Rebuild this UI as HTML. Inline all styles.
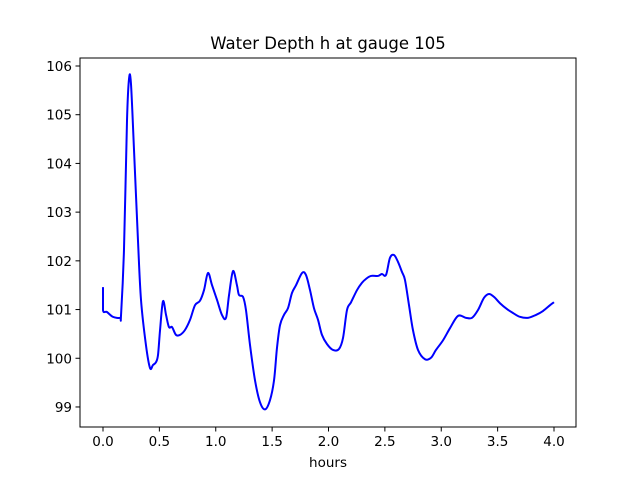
<!DOCTYPE html>
<html><head><meta charset="utf-8"><style>
body{margin:0;background:#fff}
svg{display:block;font-family:"DejaVu Sans","Liberation Sans",sans-serif}
</style></head><body>
<svg id="c" width="640" height="480"></svg>
<script>
const xs=[0,0,0.035,0.089,0.151,0.160,0.186,0.213,0.231,0.248,0.275,0.310,0.337,0.381,0.417,0.443,0.470,0.488,0.506,0.532,0.559,0.585,0.612,0.647,0.683,0.727,0.772,0.816,0.860,0.896,0.931,0.967,1.011,1.055,1.091,1.118,1.153,1.188,1.206,1.242,1.268,1.304,1.348,1.392,1.437,1.481,1.517,1.543,1.570,1.605,1.641,1.676,1.712,1.765,1.800,1.836,1.871,1.907,1.942,1.987,2.040,2.093,2.129,2.164,2.200,2.253,2.297,2.333,2.377,2.439,2.474,2.510,2.545,2.581,2.616,2.652,2.678,2.714,2.749,2.794,2.856,2.909,2.953,3.016,3.078,3.149,3.220,3.273,3.326,3.379,3.423,3.468,3.521,3.583,3.636,3.698,3.769,3.840,3.902,3.965,4.0];
const ys=[101.46,100.99,100.95,100.85,100.83,100.89,102.22,104.89,105.74,105.64,104.28,102.43,101.20,100.27,99.80,99.86,99.92,100.07,100.58,101.17,100.89,100.64,100.64,100.48,100.48,100.58,100.79,101.09,101.18,101.40,101.75,101.50,101.20,100.89,100.83,101.30,101.79,101.50,101.30,101.26,100.99,100.27,99.55,99.10,98.95,99.14,99.55,100.21,100.68,100.89,101.03,101.34,101.50,101.75,101.71,101.40,101.03,100.79,100.48,100.29,100.17,100.19,100.42,100.99,101.15,101.40,101.55,101.63,101.69,101.69,101.73,101.71,102.06,102.12,101.98,101.77,101.61,101.09,100.58,100.17,99.98,100.01,100.17,100.37,100.62,100.87,100.83,100.83,100.99,101.24,101.32,101.26,101.13,101.01,100.93,100.85,100.83,100.89,100.97,101.09,101.15];
const xTicks=[0,0.5,1,1.5,2,2.5,3,3.5,4];
const xTickLabels=["0.0","0.5","1.0","1.5","2.0","2.5","3.0","3.5","4.0"];
const yTicks=[99,100,101,102,103,104,105,106];
const X=v=>103+v*112.75, Y=v=>66+(106-v)*48.71;
const svg=document.getElementById('c'),NS='http://www.w3.org/2000/svg';
function mk(t,a,p){const e=document.createElementNS(NS,t);for(const k in a)e.setAttribute(k,a[k]);(p||svg).appendChild(e);return e;}
let d='';
for(let i=0;i<xs.length;i++){
  const p0=[X(xs[Math.max(0,i-1)]),Y(ys[Math.max(0,i-1)])],p1=[X(xs[i]),Y(ys[i])];
  if(i===0){d+='M'+p1[0]+','+p1[1];continue;}
  if(i===1){d+='L'+p1[0]+','+p1[1];continue;}
  const pm=[X(xs[Math.max(0,i-2)]),Y(ys[Math.max(0,i-2)])],p2=[X(xs[Math.min(xs.length-1,i+1)]),Y(ys[Math.min(xs.length-1,i+1)])];
  const c1=[p0[0]+(p1[0]-pm[0])/6,p0[1]+(p1[1]-pm[1])/6],c2=[p1[0]-(p2[0]-p0[0])/6,p1[1]-(p2[1]-p0[1])/6];
  d+='C'+c1+' '+c2+' '+p1;
}
const ln=mk('path',{d:d,fill:'none',stroke:'#0000ff','stroke-width':2,'stroke-linejoin':'round'});


const fr=mk('rect',{x:80,y:58,width:496,height:369,fill:'none',stroke:'#000','stroke-width':1});


xTicks.forEach((v,i)=>{
  const x=X(v);
  const t=mk('line',{x1:x,x2:x,y1:427,y2:431.5,stroke:'#000'});
  
  
  const l=mk('text',{x:x,y:446,'font-size':13.5,'text-anchor':'middle'});l.textContent=xTickLabels[i];
  
  
});
yTicks.forEach(v=>{
  const y=Y(v);
  const t=mk('line',{x1:75.5,x2:80,y1:y,y2:y,stroke:'#000'});
  
  
  const l=mk('text',{x:72,y:y+5,'font-size':13.5,'text-anchor':'end'});l.textContent=v;
  
  
});
const ti=mk('text',{x:328,y:49,'font-size':16.5,'text-anchor':'middle'});ti.textContent='Water Depth h at gauge 105';


const xl=mk('text',{x:328,y:467,'font-size':13.5,'text-anchor':'middle'});xl.textContent='hours';


</script>
</body></html>
